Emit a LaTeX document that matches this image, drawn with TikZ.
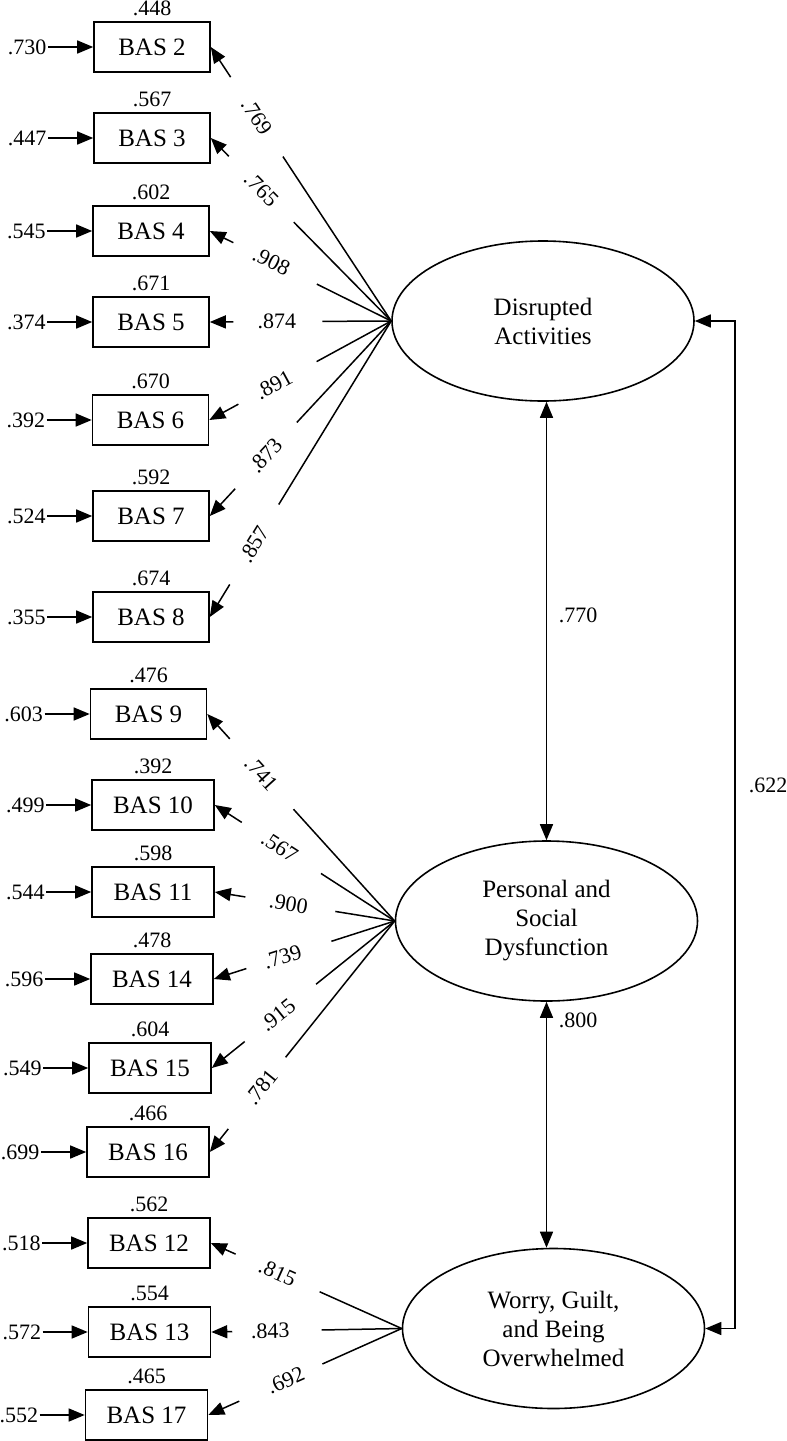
\documentclass[tikz,border=0pt]{standalone}
\usepackage{fontspec}
\setmainfont{Liberation Serif}
\usetikzlibrary{arrows.meta,calc,shapes.geometric}

\tikzset{
  box/.style={draw, line width=1.6pt, minimum width=116pt, minimum height=50pt, inner sep=0pt, font=\fontsize{25}{28}\selectfont},
  wbox/.style={box, minimum width=122pt},
  latent/.style={draw, ellipse, line width=1.6pt, minimum width=302pt, minimum height=160pt, inner sep=0pt, align=center, font=\fontsize{25}{29}\selectfont},
  num/.style={font=\fontsize{22}{24}\selectfont, inner sep=1.5pt},
  conn/.style={line width=1.5pt},
  tip/.tip={Triangle[length=16pt,width=13pt]},
  arr/.style={conn, -tip},
  darr/.style={conn, tip-tip},
}

\newcommand\myload[6]{%
  \draw[conn] (#1) -- ($(#1)!#3!(#2)$);
  \draw[arr] ($(#1)!#4!(#2)$) -- (#2);
  \path (#1) -- (#2) node[num, pos=#5, sloped] {#6};
}
\newcommand\myobs[6]{%
  \node[#2] (#1) at (#3,#4) {#5};
  \node[num, anchor=east] (e#1) at ($(#1.west)+(-45,0)$) {#6};
  \draw[arr] (e#1.east) -- (#1.west);
}

\begin{document}
\begin{tikzpicture}[x=1pt,y=-1pt]
\useasboundingbox (0,0) rectangle (787,1441);

% latent factors
\node[latent] (DA) at (543,321) {Disrupted\\Activities};
\node[latent] (PSD) at (546.5,921) {Personal and\\Social\\Dysfunction};
\node[latent] (WGO) at (553.5,1328.5) {Worry, Guilt,\\and Being\\Overwhelmed};

% observed variables
\myobs{b2}{box}{152}{47}{BAS 2}{.730}
\myobs{b3}{box}{152}{138}{BAS 3}{.447}
\myobs{b4}{box}{151}{231}{BAS 4}{.545}
\myobs{b5}{box}{151}{322}{BAS 5}{.374}
\myobs{b6}{box}{150.5}{420}{BAS 6}{.392}
\myobs{b7}{box}{151}{516}{BAS 7}{.524}
\myobs{b8}{box}{151}{617}{BAS 8}{.355}
\myobs{b9}{box}{148.5}{714}{BAS 9}{.603}
\myobs{b10}{wbox}{153}{805}{BAS 10}{.499}
\myobs{b11}{wbox}{153}{892}{BAS 11}{.544}
\myobs{b14}{wbox}{152}{979}{BAS 14}{.596}
\myobs{b15}{wbox}{150}{1068}{BAS 15}{.549}
\myobs{b16}{wbox}{148}{1152}{BAS 16}{.699}
\myobs{b12}{wbox}{149}{1243}{BAS 12}{.518}
\myobs{b13}{wbox}{149.5}{1332}{BAS 13}{.572}
\myobs{b17}{wbox}{146.5}{1415}{BAS 17}{.552}

% R squared
\foreach \b/\r in {b2/.448,b3/.567,b4/.602,b5/.671,b6/.670,b7/.592,b8/.674,b9/.476,
  b10/.392,b11/.598,b14/.478,b15/.604,b16/.466,b12/.562,b13/.554,b17/.465}{
  \node[num, anchor=base, inner sep=0pt] (r\b) at ($(\b.north)+(0,-6)$) {\r};
}

% loadings
\myload{DA.west}{b2.east}{0.60}{0.89}{0.745}{.769}
\myload{DA.west}{b3.east}{0.54}{0.90}{0.72}{.765}
\myload{DA.west}{b4.east}{0.41}{0.87}{0.66}{.908}
\myload{DA.west}{b5.east}{0.38}{0.87}{0.63}{.874}
\myload{DA.west}{b6.east}{0.41}{0.84}{0.645}{.891}
\myload{DA.west}{b7.east}{0.52}{0.86}{0.69}{.873}
\myload{DA.west}{b8.east}{0.62}{0.89}{0.755}{.857}

\myload{PSD.west}{b9.east}{0.54}{0.88}{0.71}{.741}
\myload{PSD.west}{b10.east}{0.41}{0.85}{0.64}{.567}
\myload{PSD.west}{b11.east}{0.33}{0.83}{0.59}{.900}
\myload{PSD.west}{b14.east}{0.35}{0.82}{0.62}{.739}
\myload{PSD.west}{b15.east}{0.43}{0.82}{0.64}{.915}
\myload{PSD.west}{b16.east}{0.59}{0.90}{0.72}{.781}

\myload{WGO.west}{b12.east}{0.43}{0.87}{0.65}{.815}
\myload{WGO.west}{b13.east}{0.42}{0.89}{0.69}{.843}
\myload{WGO.west}{b17.east}{0.41}{0.84}{0.60}{.692}

% correlations
\draw[darr] (PSD.north |- DA.south) -- (PSD.north);
\node[num] (c770) at (578,615) {.770};
\draw[darr] (PSD.south) -- (PSD.south |- WGO.north);
\node[num] (c800) at (578,1020) {.800};
\coordinate (rt) at (735,321);
\draw[darr] (DA.east) -- (rt) |- (WGO.east);
\node[num] (c622) at (768,785) {.622};
\end{tikzpicture}
\end{document}
